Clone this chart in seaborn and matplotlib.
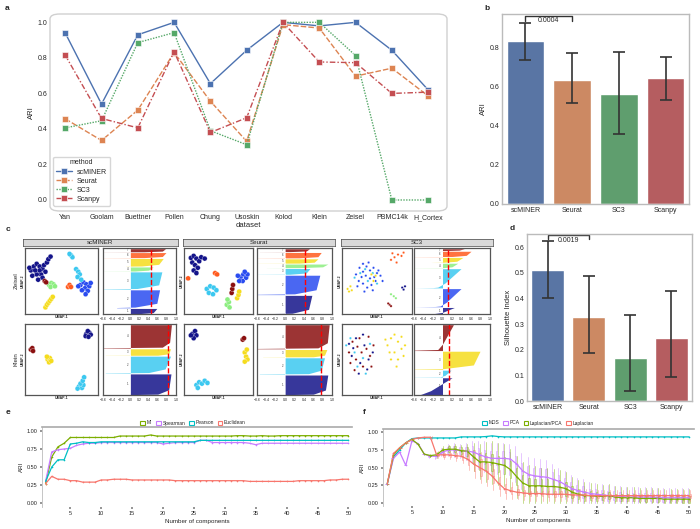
import numpy as np
import pandas as pd
import matplotlib
matplotlib.use("Agg")
import matplotlib.pyplot as plt
import seaborn as sns
from matplotlib.patches import FancyBboxPatch, Patch

# ---------------- data ----------------
datasets = ['Yan', 'Goolam', 'Buettner', 'Pollen', 'Chung', 'Usoskin', 'Kolod',
            'Klein', 'Zeisel', 'PBMC14k', 'H_Cortex']
methods = ['scMINER', 'Seurat', 'SC3', 'Scanpy']
ari_scminer = [0.94, 0.54, 0.93, 1.0, 0.655, 0.843, 1.0, 0.98, 1.0, 0.843, 0.62]
ari_seurat = [0.457, 0.335, 0.506, 0.83, 0.556, 0.33, 0.987, 0.968, 0.697, 0.742, 0.586]
ari_sc3 = [0.406, 0.446, 0.886, 0.942, 0.39, 0.311, 1.0, 1.0, 0.813, 0.0, 0.0]
ari_scanpy = [0.815, 0.459, 0.406, 0.835, 0.38, 0.463, 1.0, 0.777, 0.773, 0.6, 0.607]

# panel b: mean ARI with error range
b_mean = [0.831, 0.633, 0.562, 0.645]
b_lo = [0.735, 0.517, 0.357, 0.529]
b_hi = [0.924, 0.771, 0.775, 0.75]
b_pval = '0.0004'

# panel d: silhouette index
d_mean = [0.51, 0.327, 0.169, 0.246]
d_lo = [0.402, 0.188, 0.039, 0.092]
d_hi = [0.625, 0.486, 0.335, 0.427]
d_pval = '0.0019'

# panel c: cluster colours
zeisel_colors = {1: '#14148a', 2: '#2a4cf0', 3: '#3cc8f0', 4: '#8cee80',
                 5: '#f5dc1e', 6: '#ff5a1e', 7: '#8b1010'}
klein_colors = {1: '#14148a', 2: '#3cc8f0', 3: '#f5dc1e', 4: '#8b1010'}

# UMAP points (axes fraction)
umap_zeisel_scminer = {
    1: [(0.08, 0.66), (0.12, 0.72), (0.16, 0.76), (0.2, 0.72), (0.24, 0.68), (0.28, 0.64),
        (0.22, 0.6), (0.16, 0.6), (0.1, 0.58), (0.14, 0.66), (0.2, 0.66), (0.26, 0.74),
        (0.3, 0.78), (0.32, 0.83), (0.35, 0.87), (0.18, 0.52), (0.24, 0.55), (0.06, 0.7)],
    2: [(0.76, 0.44), (0.8, 0.48), (0.84, 0.45), (0.88, 0.42), (0.82, 0.39), (0.78, 0.36),
        (0.86, 0.35), (0.9, 0.47), (0.83, 0.3), (0.73, 0.42)],
    3: [(0.7, 0.68), (0.73, 0.64), (0.75, 0.6), (0.72, 0.56), (0.77, 0.52), (0.63, 0.89),
        (0.65, 0.86), (0.61, 0.91)],
    4: [(0.33, 0.44), (0.36, 0.47), (0.39, 0.45), (0.35, 0.41), (0.41, 0.42)],
    5: [(0.28, 0.1), (0.3, 0.14), (0.32, 0.17), (0.34, 0.2), (0.36, 0.23), (0.38, 0.26)],
    6: [(0.59, 0.41), (0.61, 0.44), (0.63, 0.41)],
    7: [(0.27, 0.5), (0.29, 0.48)],
}
umap_klein_scminer = {
    1: [(0.84, 0.86), (0.88, 0.88), (0.86, 0.9), (0.9, 0.85), (0.83, 0.83), (0.87, 0.82)],
    2: [(0.74, 0.12), (0.78, 0.1), (0.8, 0.14), (0.76, 0.16), (0.79, 0.2), (0.81, 0.25), (0.72, 0.09)],
    3: [(0.31, 0.5), (0.34, 0.52), (0.33, 0.46), (0.36, 0.48), (0.3, 0.54)],
    4: [(0.08, 0.64), (0.1, 0.66), (0.11, 0.62)],
}
umap_zeisel_seurat = {
    1: [(0.1, 0.85), (0.14, 0.88), (0.18, 0.84), (0.12, 0.78), (0.16, 0.74), (0.2, 0.7),
        (0.22, 0.8), (0.25, 0.86), (0.14, 0.66), (0.18, 0.62), (0.3, 0.84)],
    2: [(0.82, 0.56), (0.86, 0.6), (0.9, 0.55), (0.85, 0.5), (0.8, 0.5), (0.92, 0.6),
        (0.88, 0.64), (0.78, 0.58)],
    3: [(0.33, 0.38), (0.38, 0.42), (0.43, 0.4), (0.36, 0.32), (0.42, 0.3), (0.47, 0.36)],
    4: [(0.62, 0.14), (0.65, 0.18), (0.63, 0.22), (0.66, 0.1)],
    5: [(0.77, 0.24), (0.79, 0.29), (0.8, 0.34)],
    6: [(0.06, 0.54), (0.45, 0.62), (0.48, 0.6)],
    7: [(0.69, 0.32), (0.7, 0.38), (0.71, 0.44)],
}
umap_klein_seurat = {
    1: [(0.12, 0.86), (0.16, 0.9), (0.18, 0.84), (0.14, 0.8), (0.1, 0.84)],
    2: [(0.18, 0.14), (0.22, 0.18), (0.26, 0.16), (0.3, 0.2), (0.2, 0.1), (0.34, 0.17)],
    3: [(0.88, 0.6), (0.9, 0.54), (0.92, 0.5), (0.88, 0.47), (0.91, 0.64)],
    4: [(0.85, 0.78), (0.87, 0.8)],
}
umap_zeisel_sc3 = {
    2: [(0.2, 0.6), (0.25, 0.7), (0.3, 0.64), (0.35, 0.72), (0.4, 0.66), (0.45, 0.7),
        (0.5, 0.62), (0.55, 0.58), (0.48, 0.5), (0.42, 0.44), (0.36, 0.4), (0.3, 0.46),
        (0.24, 0.5), (0.28, 0.56), (0.34, 0.58), (0.4, 0.54), (0.46, 0.56), (0.52, 0.66),
        (0.58, 0.5), (0.22, 0.42), (0.32, 0.34), (0.44, 0.36), (0.38, 0.78), (0.3, 0.76)],
    3: [(0.26, 0.62), (0.37, 0.5), (0.44, 0.62), (0.5, 0.46), (0.18, 0.55), (0.33, 0.68)],
    5: [(0.45, 0.5), (0.48, 0.58), (0.42, 0.6), (0.08, 0.38), (0.1, 0.34), (0.12, 0.42), (0.14, 0.36)],
    6: [(0.7, 0.82), (0.75, 0.86), (0.8, 0.9), (0.85, 0.88), (0.78, 0.78), (0.88, 0.93), (0.72, 0.92)],
    4: [(0.7, 0.3), (0.74, 0.27), (0.77, 0.24)],
    7: [(0.68, 0.14), (0.7, 0.12), (0.66, 0.16)],
    1: [(0.86, 0.4), (0.9, 0.42), (0.88, 0.37)],
}
umap_klein_sc3 = {
    4: [(0.1, 0.6), (0.15, 0.75), (0.2, 0.5), (0.25, 0.8), (0.3, 0.4), (0.35, 0.65),
        (0.4, 0.55), (0.45, 0.7), (0.18, 0.35), (0.28, 0.6), (0.38, 0.82), (0.12, 0.45),
        (0.22, 0.68), (0.42, 0.4)],
    1: [(0.14, 0.55), (0.2, 0.8), (0.26, 0.45), (0.32, 0.7), (0.38, 0.5), (0.44, 0.6),
        (0.24, 0.3), (0.3, 0.85), (0.16, 0.66), (0.36, 0.36), (0.1, 0.72)],
    2: [(0.06, 0.7), (0.12, 0.8), (0.18, 0.6), (0.3, 0.52), (0.4, 0.72), (0.22, 0.4), (0.34, 0.3)],
    3: [(0.65, 0.7), (0.7, 0.8), (0.75, 0.6), (0.8, 0.75), (0.85, 0.65), (0.7, 0.5),
        (0.8, 0.5), (0.9, 0.7), (0.75, 0.85), (0.68, 0.6), (0.78, 0.4), (0.88, 0.55),
        (0.62, 0.78), (0.85, 0.82)],
}

# silhouette profiles: cluster -> (size, widths at profile positions bottom->top)
sil_pos = [0.0, 0.015, 0.04, 0.25, 1.0]
sil_zeisel_scminer = {1: (17, [-0.55, -0.55, 0.15, 0.5, 0.58]), 2: (55, [-0.3, -0.3, 0.1, 0.58, 0.64]),
                      3: (53, [-0.6, -0.6, 0.15, 0.62, 0.69]), 4: (13, [-0.6, -0.6, 0.1, 0.4, 0.5]),
                      5: (24, [-0.1, -0.1, 0.25, 0.62, 0.72]), 6: (16, [-0.6, -0.6, 0.3, 0.7, 0.78]),
                      7: (10, [-0.6, -0.6, 0.3, 0.7, 0.77])}
sil_klein_scminer = {1: (63, [-0.1, -0.1, 0.6, 0.84, 0.89]), 2: (51, [-0.55, -0.55, 0.4, 0.76, 0.88]),
                     3: (20, [-0.55, -0.55, 0.6, 0.84, 0.88]), 4: (70, [-0.6, -0.6, 0.7, 0.86, 0.9])}
sil_zeisel_seurat = {1: (50, [-0.6, -0.6, 0.15, 0.5, 0.57]), 2: (52, [-0.6, -0.6, 0.2, 0.66, 0.74]),
                     3: (16, [-0.6, -0.6, 0.1, 0.45, 0.53]), 4: (10, [-0.4, -0.4, 0.3, 0.8, 0.91]),
                     5: (12, [-0.6, -0.6, 0.3, 0.62, 0.7]), 6: (15, [-0.6, -0.6, 0.3, 0.7, 0.77]),
                     7: (8, [-0.55, -0.55, 0.1, 0.45, 0.52])}
sil_klein_seurat = {1: (58, [-0.1, -0.1, 0.6, 0.86, 0.91]), 2: (48, [-0.55, -0.55, 0.5, 0.77, 0.84]),
                    3: (22, [-0.48, -0.48, 0.6, 0.84, 0.89]), 4: (70, [-0.6, -0.6, 0.7, 0.9, 0.94])}
sil_zeisel_sc3 = {1: (18, [-0.5, -0.3, -0.2, 0.0, 0.25]), 2: (50, [-0.6, -0.15, -0.05, 0.08, 0.39]),
                  3: (53, [-0.6, -0.2, -0.1, 0.05, 0.39]), 4: (13, [-0.6, -0.6, 0.0, 0.2, 0.32]),
                  5: (14, [-0.25, -0.2, 0.0, 0.3, 0.43]), 6: (15, [-0.6, -0.6, 0.2, 0.5, 0.6]),
                  7: (5, [-0.1, -0.1, 0.1, 0.35, 0.46])}
sil_klein_sc3 = {1: (50, [-0.5, -0.5, -0.45, -0.25, 0.2]), 2: (20, [-0.6, -0.6, -0.05, 0.05, 0.18]),
                 3: (53, [-0.6, -0.6, 0.0, 0.65, 0.79]), 4: (75, [-0.6, -0.6, -0.1, 0.0, 0.23])}
sil_avg = {('scMINER', 'Zeisel'): 0.45, ('scMINER', 'Klein'): 0.83,
           ('Seurat', 'Zeisel'): 0.42, ('Seurat', 'Klein'): 0.77,
           ('SC3', 'Zeisel'): 0.11, ('SC3', 'Klein'): 0.13}

# panel e: ARI vs number of components by similarity metric
comps = list(range(1, 51))
e_mi = [0.27, 0.64, 0.78, 0.83, 0.91, 0.91, 0.91, 0.91, 0.91, 0.91, 0.91, 0.91, 0.93, 0.93, 0.93,
        0.93, 0.93, 0.945, 0.93, 0.93, 0.93, 0.93, 0.93, 0.93, 0.93, 0.93, 0.93, 0.93, 0.93, 0.93,
        0.93, 0.935, 0.935, 0.93, 0.93, 0.935, 0.93, 0.93, 0.935, 0.935, 0.935, 0.935, 0.935, 0.935,
        0.935, 0.935, 0.935, 0.935, 0.935, 0.935]
e_spearman = [0.3, 0.71, 0.74, 0.75, 0.76, 0.8, 0.82, 0.83, 0.83, 0.84, 0.84, 0.84, 0.84, 0.84,
              0.84, 0.84, 0.84, 0.84, 0.84, 0.82, 0.83, 0.84, 0.84, 0.84, 0.84, 0.87, 0.87, 0.84,
              0.84, 0.84, 0.84, 0.84, 0.84, 0.83, 0.81, 0.83, 0.83, 0.83, 0.83, 0.83, 0.83, 0.83,
              0.83, 0.83, 0.83, 0.83, 0.83, 0.83, 0.83, 0.83]
e_pearson = [0.3, 0.5, 0.6, 0.6, 0.82, 0.83, 0.85, 0.84, 0.84, 0.85, 0.85, 0.85, 0.85, 0.85, 0.85,
             0.85, 0.85, 0.85, 0.85, 0.85, 0.85, 0.85, 0.85, 0.85, 0.85, 0.87, 0.87, 0.87, 0.87,
             0.87, 0.87, 0.87, 0.87, 0.87, 0.87, 0.87, 0.87, 0.87, 0.87, 0.87, 0.87, 0.87, 0.87,
             0.87, 0.87, 0.87, 0.87, 0.87, 0.87, 0.87]
e_euclidean = [0.27, 0.37, 0.33, 0.33, 0.31, 0.31, 0.29, 0.29, 0.29, 0.32, 0.32, 0.33, 0.33, 0.33,
               0.32, 0.32, 0.32, 0.32, 0.32, 0.32, 0.32, 0.31, 0.31, 0.31, 0.31, 0.31, 0.31, 0.31,
               0.31, 0.31, 0.31, 0.31, 0.31, 0.3, 0.3, 0.3, 0.3, 0.3, 0.3, 0.3, 0.3, 0.31, 0.31,
               0.31, 0.31, 0.31, 0.32, 0.32, 0.33, 0.33]

# panel f: ARI vs number of components by dimension reduction (median, half IQR, half whisker)
f_mds = [0.27, 0.65, 0.75, 0.85, 0.91, 0.92, 0.92, 0.92, 0.92, 0.92, 0.92, 0.92, 0.935, 0.935,
         0.935, 0.935, 0.94, 0.95, 0.94, 0.935, 0.935, 0.935, 0.935, 0.935, 0.935, 0.935, 0.935,
         0.935, 0.935, 0.935, 0.935, 0.935, 0.935, 0.935, 0.935, 0.935, 0.935, 0.935, 0.935, 0.935,
         0.935, 0.935, 0.935, 0.935, 0.935, 0.935, 0.935, 0.935, 0.935, 0.935]
f_pca = [0.27, 0.63, 0.72, 0.53, 0.88, 0.84, 0.69, 0.66, 0.66, 0.72, 0.75, 0.75, 0.74, 0.73, 0.72,
         0.68, 0.65, 0.63, 0.63, 0.63, 0.62, 0.55, 0.45, 0.4, 0.38, 0.37, 0.36, 0.33, 0.3, 0.25,
         0.2, 0.17, 0.15, 0.13, 0.12, 0.11, 0.1, 0.1, 0.09, 0.08, 0.08, 0.08, 0.08, 0.08, 0.07,
         0.07, 0.07, 0.07, 0.07, 0.07]
f_lappca = [0.27, 0.68, 0.78, 0.85, 0.9, 0.83, 0.69, 0.67, 0.68, 0.75, 0.76, 0.76, 0.74, 0.73,
            0.65, 0.58, 0.58, 0.57, 0.55, 0.53, 0.47, 0.37, 0.28, 0.24, 0.24, 0.24, 0.23, 0.23,
            0.22, 0.2, 0.15, 0.12, 0.1, 0.1, 0.09, 0.09, 0.1, 0.08, 0.07, 0.07, 0.07, 0.06, 0.06,
            0.06, 0.06, 0.05, 0.05, 0.05, 0.05, 0.05]
f_lap = [0.27, 0.7, 0.78, 0.85, 0.9, 0.92, 0.93, 0.93, 0.68, 0.68, 0.68, 0.67, 0.66, 0.62, 0.55,
         0.5, 0.45, 0.38, 0.28, 0.2, 0.17, 0.15, 0.14, 0.13, 0.13, 0.13, 0.12, 0.12, 0.12, 0.12,
         0.11, 0.11, 0.11, 0.1, 0.1, 0.1, 0.1, 0.1, 0.1, 0.1, 0.1, 0.1, 0.1, 0.1, 0.1, 0.1, 0.1,
         0.1, 0.1, 0.1]
f_pca_iqr = [0, 0, 0, 0, 0, 0, 0, 0.01, 0.02, 0.03, 0.04, 0.05, 0.05, 0.06, 0.08, 0.1, 0.1, 0.1,
             0.1, 0.1, 0.1, 0.12, 0.12, 0.12, 0.12, 0.12, 0.12, 0.11, 0.1, 0.1, 0.09, 0.08, 0.08,
             0.07, 0.07, 0.07, 0.07, 0.06, 0.06, 0.06, 0.06, 0.06, 0.06, 0.06, 0.06, 0.06, 0.06,
             0.06, 0.06, 0.06]
f_pca_wh = [0, 0, 0, 0, 0, 0, 0, 0.02, 0.04, 0.06, 0.08, 0.1, 0.1, 0.12, 0.15, 0.2, 0.22, 0.22,
            0.22, 0.22, 0.22, 0.25, 0.25, 0.25, 0.25, 0.25, 0.24, 0.22, 0.2, 0.2, 0.2, 0.18, 0.18,
            0.16, 0.16, 0.15, 0.15, 0.14, 0.14, 0.14, 0.14, 0.14, 0.14, 0.14, 0.14, 0.14, 0.14,
            0.14, 0.14, 0.14]
f_lappca_iqr = [0, 0, 0, 0, 0, 0, 0, 0.01, 0.02, 0.03, 0.04, 0.04, 0.05, 0.06, 0.1, 0.12, 0.12,
                0.12, 0.12, 0.12, 0.12, 0.12, 0.12, 0.11, 0.1, 0.1, 0.1, 0.1, 0.1, 0.1, 0.08, 0.07,
                0.07, 0.06, 0.06, 0.05, 0.05, 0.05, 0.05, 0.05, 0.05, 0.05, 0.05, 0.05, 0.05, 0.05,
                0.05, 0.05, 0.05, 0.05]
f_lappca_wh = [0, 0, 0, 0, 0, 0, 0, 0.02, 0.04, 0.06, 0.06, 0.08, 0.08, 0.1, 0.2, 0.25, 0.28,
               0.3, 0.3, 0.3, 0.3, 0.3, 0.3, 0.3, 0.28, 0.26, 0.26, 0.25, 0.24, 0.24, 0.22, 0.2,
               0.2, 0.18, 0.18, 0.16, 0.16, 0.15, 0.15, 0.15, 0.15, 0.15, 0.15, 0.15, 0.15, 0.15,
               0.15, 0.15, 0.15, 0.15]
f_lap_iqr = [0, 0, 0, 0, 0, 0, 0, 0.01, 0.02, 0.03, 0.03, 0.04, 0.05, 0.08, 0.1, 0.12, 0.12, 0.1,
             0.08, 0.06, 0.05, 0.04, 0.04, 0.04, 0.04, 0.04, 0.04, 0.04, 0.04, 0.04, 0.03, 0.03,
             0.03, 0.03, 0.03, 0.03, 0.03, 0.03, 0.03, 0.03, 0.03, 0.03, 0.03, 0.03, 0.03, 0.03,
             0.03, 0.03, 0.03, 0.03]
f_lap_wh = [0, 0, 0, 0, 0, 0, 0, 0.02, 0.05, 0.06, 0.06, 0.08, 0.1, 0.15, 0.2, 0.22, 0.22, 0.2,
            0.18, 0.15, 0.12, 0.1, 0.1, 0.1, 0.1, 0.1, 0.1, 0.1, 0.1, 0.1, 0.08, 0.08, 0.08, 0.08,
            0.08, 0.08, 0.08, 0.08, 0.08, 0.08, 0.08, 0.08, 0.08, 0.08, 0.08, 0.08, 0.08, 0.08,
            0.08, 0.08]

# ---------------- figure ----------------
sns.set_theme(style='white')
plt.rcParams['font.family'] = ['Liberation Sans', 'DejaVu Sans']

W, H = 700, 529
fig = plt.figure(figsize=(7, 5.29), dpi=100)


def px_rect(x0, y0, x1, y1):
    return [x0 / W, 1 - y1 / H, (x1 - x0) / W, (y1 - y0) / H]


def panel_label(x, y, s):
    fig.text(x / W, 1 - y / H, s, fontsize=6, fontweight='bold', va='center', ha='left')


deep = sns.color_palette('deep', 4)
pal = dict(zip(methods, deep))

# ---- a: ARI per dataset ----
ax_a = fig.add_axes(px_rect(50, 14, 447, 211))
df_a = pd.DataFrame({'dataset': datasets * 4,
                     'ARI': ari_scminer + ari_seurat + ari_sc3 + ari_scanpy,
                     'method': np.repeat(methods, len(datasets))})
sns.lineplot(ax=ax_a, data=df_a, x='dataset', y='ARI', hue='method', style='method',
             palette=pal, sort=False, lw=1,
             markers={'scMINER': 's', 'Seurat': 's', 'SC3': 's', 'Scanpy': 's'},
             dashes={'scMINER': '', 'Seurat': (4, 1.5), 'SC3': (1, 1), 'Scanpy': (4, 1.5, 1, 1.5)},
             markersize=5, markeredgecolor='white', markeredgewidth=0.4)
ax_a.set_xlim(-0.42, 10.52)
ax_a.set_ylim(-0.062, 1.047)
ax_a.set_yticks([0, 0.2, 0.4, 0.6, 0.8, 1.0])
ax_a.tick_params(labelsize=5, pad=2, length=0)
ax_a.set_xlabel('dataset', fontsize=5.5, labelpad=1)
ax_a.set_ylabel('ARI', fontsize=5.5, labelpad=2)
for sp in ax_a.spines.values():
    sp.set_visible(False)
ax_a.add_patch(FancyBboxPatch((0, 0), 1, 1, boxstyle='round,pad=0,rounding_size=0.025',
                              transform=ax_a.transAxes, fill=False, ec='#d0d0d0', lw=1,
                              clip_on=False))
h, l = ax_a.get_legend_handles_labels()
ax_a.legend(h, l, title='method', loc='lower left', fontsize=5, title_fontsize=5,
            frameon=True, edgecolor='#cccccc', borderpad=0.4, labelspacing=0.3,
            handlelength=2.2, bbox_to_anchor=(0.0, 0.01))
panel_label(5, 8, 'a')


# ---- b and d: bar charts ----
def bar_panel(rect, mean, lo, hi, ylim, yticks, ylabel, pval, br_top, br_bot, txt_y):
    ax = fig.add_axes(px_rect(*rect))
    sns.barplot(ax=ax, x=methods, y=mean, hue=methods, palette=pal, legend=False,
                errorbar=None, width=0.8)
    err = [np.array(mean) - np.array(lo), np.array(hi) - np.array(mean)]
    ax.errorbar(range(4), mean, yerr=err, fmt='none', ecolor='#333333', elinewidth=1.2,
                capsize=4, capthick=1.2)
    ax.plot([0, 0, 1, 1], [br_bot, br_top, br_top, br_bot], color='#333333', lw=1)
    ax.text(0.5, txt_y, pval, fontsize=5, ha='center', va='top')
    ax.set_ylim(*ylim)
    ax.set_xlim(-0.5, 3.5)
    ax.set_yticks(yticks)
    ax.tick_params(labelsize=5, pad=2, length=0)
    ax.set_ylabel(ylabel, fontsize=5.5, labelpad=2)
    for sp in ax.spines.values():
        sp.set_color('#bbbbbb')
        sp.set_linewidth(1)
    return ax


bar_panel((502, 14, 689, 204), b_mean, b_lo, b_hi, (0, 0.97), [0, 0.2, 0.4, 0.6, 0.8],
          'ARI', b_pval, 0.962, 0.936, 0.955)
panel_label(484, 8, 'b')
ax_d = bar_panel((527, 234, 692, 401), d_mean, d_lo, d_hi, (0, 0.651),
                 [0, 0.1, 0.2, 0.3, 0.4, 0.5, 0.6], 'Silhouette Index', d_pval, 0.647, 0.632, 0.641)
ax_d.set_yticklabels(['0.0', '0.1', '0.2', '0.3', '0.4', '0.5', '0.6'])
panel_label(510, 228, 'd')

# ---- c: UMAP + silhouette ----
groups = ['scMINER', 'Seurat', 'SC3']
header_x = [(23, 178), (183, 335), (341, 493)]
umap_x = [(25, 98), (184, 253), (342, 412)]
sil_x = [(103, 176), (257, 332), (414, 490)]
rows_y = [(248, 314), (324, 395)]
rows = ['Zeisel', 'Klein']
umaps = {('scMINER', 'Zeisel'): umap_zeisel_scminer, ('scMINER', 'Klein'): umap_klein_scminer,
         ('Seurat', 'Zeisel'): umap_zeisel_seurat, ('Seurat', 'Klein'): umap_klein_seurat,
         ('SC3', 'Zeisel'): umap_zeisel_sc3, ('SC3', 'Klein'): umap_klein_sc3}
sils = {('scMINER', 'Zeisel'): sil_zeisel_scminer, ('scMINER', 'Klein'): sil_klein_scminer,
        ('Seurat', 'Zeisel'): sil_zeisel_seurat, ('Seurat', 'Klein'): sil_klein_seurat,
        ('SC3', 'Zeisel'): sil_zeisel_sc3, ('SC3', 'Klein'): sil_klein_sc3}

for gi, g in enumerate(groups):
    axh = fig.add_axes(px_rect(header_x[gi][0], 239, header_x[gi][1], 245.5))
    axh.set_facecolor('#d9d9d9')
    axh.set_xticks([])
    axh.set_yticks([])
    for sp in axh.spines.values():
        sp.set_color('#444444')
        sp.set_linewidth(0.5)
    axh.text(0.5, 0.5, g, fontsize=4.5, ha='center', va='center', transform=axh.transAxes)
    for ri, r in enumerate(rows):
        colors = zeisel_colors if r == 'Zeisel' else klein_colors
        y0, y1 = rows_y[ri]
        # UMAP scatter
        axu = fig.add_axes(px_rect(umap_x[gi][0], y0, umap_x[gi][1], y1))
        pts = umaps[(g, r)]
        dfu = pd.DataFrame([(x, y, k) for k, v in pts.items() for (x, y) in v],
                           columns=['x', 'y', 'cluster'])
        size = 3 if g == 'SC3' else 13
        sns.scatterplot(ax=axu, data=dfu, x='x', y='y', hue='cluster', palette=colors,
                        s=size, legend=False, edgecolor='white', linewidth=0.2)
        axu.set_xlim(0, 1)
        axu.set_ylim(0, 1)
        axu.set_xticks([])
        axu.set_yticks([])
        axu.set_xlabel('UMAP-1', fontsize=2.5, fontweight='bold', labelpad=1)
        axu.set_ylabel('UMAP-2', fontsize=2.5, fontweight='bold', labelpad=0.5)
        for sp in axu.spines.values():
            sp.set_color('#555555')
            sp.set_linewidth(0.9)
        if gi == 0:
            fig.text(16.5 / W, 1 - (y0 + y1) / 2 / H, r, rotation=90, fontsize=4.5,
                     ha='center', va='center')
        # silhouette
        axs = fig.add_axes(px_rect(sil_x[gi][0], y0, sil_x[gi][1], y1))
        ystart = 0
        for k, (n, widths) in sils[(g, r)].items():
            ys = [ystart + p * n for p in sil_pos]
            axs.fill_betweenx(ys, 0, widths, color=colors[k], alpha=0.85, lw=0)
            axs.text(-0.04, ystart + n / 2, str(k), fontsize=2, ha='right', va='center',
                     color='#333333')
            ystart += n + 2
        axs.axvline(sil_avg[(g, r)], color='red', ls='--', lw=1)
        axs.set_xlim(-0.6, 1.0)
        axs.set_ylim(0, ystart)
        axs.set_xticks([-0.6, -0.4, -0.2, 0.0, 0.2, 0.4, 0.6, 0.8, 1.0])
        axs.set_yticks([])
        axs.tick_params(labelsize=2.5, pad=1, length=1)
        for sp in axs.spines.values():
            sp.set_color('#555555')
            sp.set_linewidth(0.9)
panel_label(6, 230, 'c')

# ---- e and f: ARI vs number of components ----
gg_red, gg_green, gg_cyan, gg_purple = '#F8766D', '#7CAE00', '#00BFC4', '#C77CFF'


def comp_axes(rect, xlim):
    ax = fig.add_axes(px_rect(*rect))
    ax.set_xlim(*xlim)
    ax.set_ylim(-0.05, 1.05)
    ax.set_yticks([0, 0.25, 0.5, 0.75, 1.0])
    ax.set_yticklabels(['0.00', '0.25', '0.50', '0.75', '1.00'])
    ax.set_xticks([5, 10, 15, 20, 25, 30, 35, 40, 45, 50])
    ax.tick_params(labelsize=4, pad=1.5, length=1.5, color='#888888', left=True, bottom=True)
    ax.spines['right'].set_visible(False)
    ax.spines['bottom'].set_visible(False)
    ax.spines['left'].set_color('#bbbbbb')
    ax.spines['left'].set_linewidth(0.6)
    ax.spines['top'].set_color('#aaaaaa')
    ax.spines['top'].set_linewidth(1.2)
    return ax


ax_e = comp_axes((42, 427.4, 352, 506.6), (0.42, 50.58))
e_names = ['MI', 'Spearman', 'Pearson', 'Euclidean']
e_pal = {'MI': gg_green, 'Spearman': gg_purple, 'Pearson': gg_cyan, 'Euclidean': gg_red}
df_e = pd.DataFrame({'comp': comps * 4, 'ARI': e_mi + e_spearman + e_pearson + e_euclidean,
                     'metric': np.repeat(e_names, len(comps))})
sns.lineplot(ax=ax_e, data=df_e, x='comp', y='ARI', hue='metric', palette=e_pal, lw=0.9,
             marker='o', markersize=1.2, markeredgewidth=0, legend=False)
ax_e.set_xlabel('Number of components', fontsize=4.5, labelpad=2)
ax_e.set_ylabel('ARI', fontsize=4.5, labelpad=2)
fig.legend([Patch(facecolor='white', edgecolor=e_pal[n], lw=0.8) for n in e_names], e_names,
           loc='center', bbox_to_anchor=(193 / W, 1 - 423 / H), ncol=4, fontsize=3.5,
           frameon=False, handlelength=1.0, handleheight=0.9, columnspacing=0.8,
           handletextpad=0.3)
panel_label(6, 413, 'e')

ax_f = comp_axes((383, 428.8, 694, 506.2), (0.3, 50.8))
f_names = ['MDS', 'PCA', 'Laplacian/PCA', 'Laplacian']
f_pal = {'MDS': gg_cyan, 'PCA': gg_purple, 'Laplacian/PCA': gg_green, 'Laplacian': gg_red}
box_sets = [('PCA', f_pca, f_pca_iqr, f_pca_wh, -0.22),
            ('Laplacian/PCA', f_lappca, f_lappca_iqr, f_lappca_wh, 0.0),
            ('Laplacian', f_lap, f_lap_iqr, f_lap_wh, 0.22)]
for name, med, iqr, wh, off in box_sets:
    stats = []
    for m, q, w in zip(med, iqr, wh):
        stats.append({'med': m, 'q1': max(m - q, 0), 'q3': min(m + q, 1),
                      'whislo': max(m - w, 0), 'whishi': min(m + w, 1), 'fliers': []})
    c = f_pal[name]
    ax_f.bxp(stats, positions=np.array(comps) + off, widths=0.2, patch_artist=True,
             showcaps=False, manage_ticks=False,
             boxprops=dict(facecolor=c, edgecolor=c, alpha=0.45, lw=0.5),
             whiskerprops=dict(color=c, alpha=0.5, lw=0.6),
             medianprops=dict(color=c, lw=0.5))
df_f = pd.DataFrame({'comp': comps * 4, 'ARI': f_mds + f_pca + f_lappca + f_lap,
                     'method': np.repeat(f_names, len(comps))})
sns.lineplot(ax=ax_f, data=df_f, x='comp', y='ARI', hue='method', palette=f_pal, lw=0.9,
             marker='o', markersize=1.2, markeredgewidth=0, legend=False)
ax_f.set_xlim(0.3, 50.8)
ax_f.set_xticks([5, 10, 15, 20, 25, 30, 35, 40, 45, 50])
ax_f.set_xticklabels([str(v) for v in [5, 10, 15, 20, 25, 30, 35, 40, 45, 50]])
ax_f.set_xlabel('Number of components', fontsize=4.5, labelpad=2)
ax_f.set_ylabel('ARI', fontsize=4.5, labelpad=2)
fig.legend([Patch(facecolor='white', edgecolor=f_pal[n], lw=0.8) for n in f_names], f_names,
           loc='center', bbox_to_anchor=(538 / W, 1 - 423 / H), ncol=4, fontsize=3.5,
           frameon=False, handlelength=1.0, handleheight=0.9, columnspacing=0.8,
           handletextpad=0.3)
panel_label(363, 413, 'f')

fig.savefig('out.png', dpi=100)
